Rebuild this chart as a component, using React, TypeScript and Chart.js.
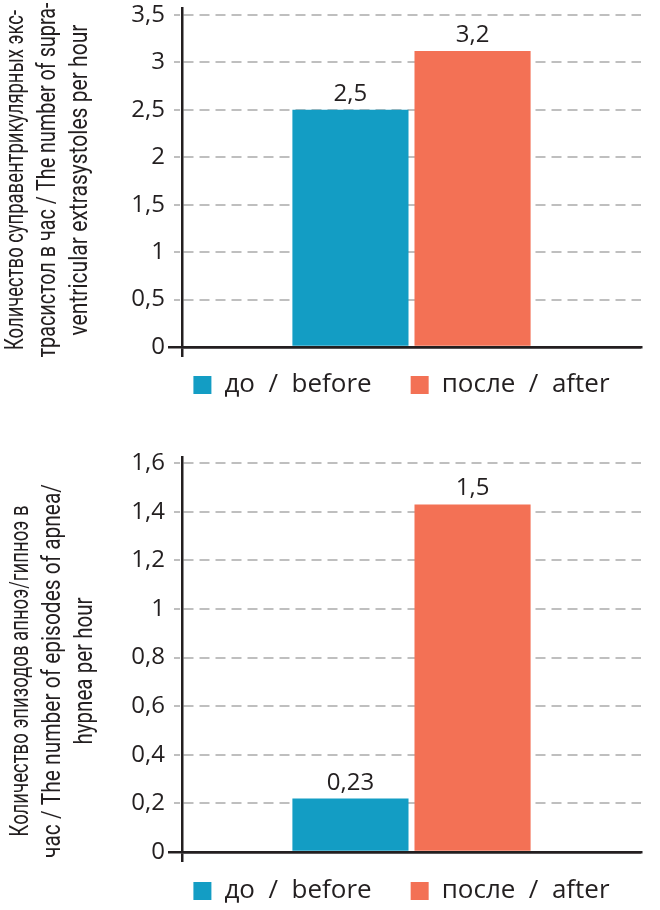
import React, { useEffect, useRef } from 'react';
import { Chart, registerables } from 'chart.js';

Chart.register(...registerables);

// ---------- data ----------
const categories = [''];
const seriesNames = ['до / before', 'после / after'];
const seriesColors = ['#139dc4', '#f37155'];

const topBefore = [2.5];
const topAfter = [3.12];
const topValueLabels = ['2,5', '3,2'];
const topTicks = [0, 0.5, 1, 1.5, 2, 2.5, 3, 3.5];
const topTitle = [
  'Количество суправентрикулярных экс-',
  'трасистол в час / The number of supra-',
  'ventricular extrasystoles per hour',
];

const bottomBefore = [0.22];
const bottomAfter = [1.43];
const bottomValueLabels = ['0,23', '1,5'];
const bottomTicks = [0, 0.2, 0.4, 0.6, 0.8, 1, 1.2, 1.4, 1.6];
const bottomTitle = [
  'Количество эпизодов апноэ/гипноэ в',
  'час / The number of episodes of apnea/',
  'hypnea per hour',
];

// ---------- styles ----------
const INK = '#231f20';
const GRID = '#bfbfbf';
const FONT = "'Open Sans', 'Noto Sans', sans-serif";
const TITLE_FONT = "Roboto, 'Noto Sans', sans-serif";
const TITLE_SIZE = 26;

type PanelProps = {
  before: number[];
  after: number[];
  valueLabels: string[];
  ticks: number[];
  axisMax: number;
  title: string[];
  titleBaselines: number[];
  titleWidths: number[];
  titleDy: number;
  top: number;
  height: number;
  padTop: number;
  legendDx: number;
  legendDy: number;
};

function ChartPanel(p: PanelProps) {
  const ref = useRef<HTMLCanvasElement | null>(null);

  useEffect(() => {
    if (!ref.current) return;
    const isZero = (c: any) => c.tick && Math.abs(c.tick.value) < 1e-9;

    const valueLabelPlugin = {
      id: 'valueLabels',
      afterDatasetsDraw(chart: any) {
        const ctx = chart.ctx;
        ctx.save();
        ctx.font = `24px ${FONT}`;
        ctx.fillStyle = INK;
        ctx.textAlign = 'center';
        ctx.textBaseline = 'alphabetic';
        chart.data.datasets.forEach((_ds: any, i: number) => {
          const meta = chart.getDatasetMeta(i);
          meta.data.forEach((el: any) => {
            ctx.fillText(p.valueLabels[i], el.x, el.y - 9);
          });
        });
        ctx.restore();
      },
    };

    const yTitlePlugin = {
      id: 'yTitleText',
      afterDraw(chart: any) {
        const { ctx, chartArea } = chart;
        ctx.save();
        ctx.font = `${TITLE_SIZE}px ${TITLE_FONT}`;
        ctx.fillStyle = INK;
        ctx.textAlign = 'center';
        ctx.textBaseline = 'alphabetic';
        const cy = (chartArea.top + chartArea.bottom) / 2 + p.titleDy;
        p.title.forEach((line, i) => {
          ctx.save();
          ctx.translate(p.titleBaselines[i], cy);
          ctx.rotate(-Math.PI / 2);
          ctx.fillText(line, 0, 0, p.titleWidths[i]);
          ctx.restore();
        });
        ctx.restore();
      },
    };

    const legendShiftPlugin = {
      id: 'legendShift',
      afterLayout(chart: any) {
        const lg = chart.legend;
        if (!lg) return;
        lg.left += p.legendDx;
        lg.right += p.legendDx;
        lg.top += p.legendDy;
        lg.bottom += p.legendDy;
      },
    };

    const chart = new Chart(ref.current, {
      type: 'bar',
      data: {
        labels: categories,
        datasets: [
          {
            label: seriesNames[0],
            data: p.before,
            backgroundColor: seriesColors[0],
            borderWidth: 0,
            categoryPercentage: 0.532,
            barPercentage: 0.951,
          },
          {
            label: seriesNames[1],
            data: p.after,
            backgroundColor: seriesColors[1],
            borderWidth: 0,
            categoryPercentage: 0.532,
            barPercentage: 0.951,
          },
        ],
      },
      options: {
        responsive: false,
        animation: false,
        devicePixelRatio: 1,
        layout: { padding: { left: 0, right: 19, top: p.padTop, bottom: 0 } },
        scales: {
          x: {
            type: 'category',
            offset: true,
            ticks: { display: false },
            grid: {
              display: true,
              offset: true,
              drawOnChartArea: false,
              drawTicks: true,
              tickLength: 10,
              lineWidth: 2.5,
              color: (c: any) => (c.index === 0 ? INK : 'rgba(0,0,0,0)'),
              tickColor: (c: any) => (c.index === 0 ? INK : 'rgba(0,0,0,0)'),
            },
            border: { display: true, color: INK, width: 2.5 },
            afterFit: (s: any) => {
              s.height = 10;
            },
          },
          y: {
            type: 'linear',
            min: 0,
            max: p.axisMax,
            afterBuildTicks: (s: any) => {
              s.ticks = p.ticks.map((v) => ({ value: v }));
            },
            afterFit: (s: any) => {
              s.width = 182;
              s.paddingTop = 0;
              s.paddingBottom = 0;
            },
            ticks: {
              color: INK,
              padding: 3,
              font: { family: FONT, size: 24, lineHeight: 1 },
              callback: (v: any) => String(v).replace('.', ','),
            },
            grid: {
              drawOnChartArea: true,
              drawTicks: true,
              tickLength: 14,
              color: (c: any) => (isZero(c) ? INK : GRID),
              tickColor: (c: any) => (isZero(c) ? INK : GRID),
              lineWidth: (c: any) => (isZero(c) ? 2.5 : 2),
              tickBorderDash: (c: any) => (isZero(c) ? [] : [0, 6, 6, 100]),
            },
            border: {
              display: true,
              color: INK,
              width: 2.5,
              dash: (c: any) => (isZero(c) ? [] : [10, 6]),
            },
          },
        },
        plugins: {
          legend: {
            display: true,
            position: 'bottom',
            fullSize: true,
            align: 'center',
            labels: {
              color: INK,
              boxWidth: 18,
              boxHeight: 18,
              padding: 39,
              font: { family: FONT, size: 26 },
              generateLabels: (chart: any) =>
                Chart.defaults.plugins.legend.labels
                  .generateLabels(chart)
                  .map((it: any) => ({ ...it, text: it.text.replace(' / ', '  /  ') })),
            },
          },
          tooltip: { enabled: false },
        },
      } as any,
      plugins: [valueLabelPlugin, yTitlePlugin, legendShiftPlugin],
    });
    return () => chart.destroy();
  }, []);

  return (
    <canvas
      ref={ref}
      width={660}
      height={p.height}
      style={{ position: 'absolute', left: 0, top: p.top, width: 660, height: p.height }}
    />
  );
}

export default function App() {
  return (
    <div
      style={{
        position: 'absolute',
        left: 0,
        top: 0,
        width: 660,
        height: 910,
        overflow: 'hidden',
        background: '#ffffff',
      }}
    >
      <ChartPanel
        before={topBefore}
        after={topAfter}
        valueLabels={topValueLabels}
        ticks={topTicks}
        axisMax={3.574}
        title={topTitle}
        titleBaselines={[23, 55, 87]}
        titleWidths={[340, 355, 311]}
        titleDy={2.5}
        top={0}
        height={432}
        padTop={8}
        legendDx={81}
        legendDy={-24}
      />
      <ChartPanel
        before={bottomBefore}
        after={bottomAfter}
        valueLabels={bottomValueLabels}
        ticks={bottomTicks}
        axisMax={1.625}
        title={bottomTitle}
        titleBaselines={[28, 60, 92]}
        titleWidths={[331, 374, 147]}
        titleDy={16.5}
        top={450}
        height={487}
        padTop={7}
        legendDx={81}
        legendDy={-23}
      />
    </div>
  );
}
